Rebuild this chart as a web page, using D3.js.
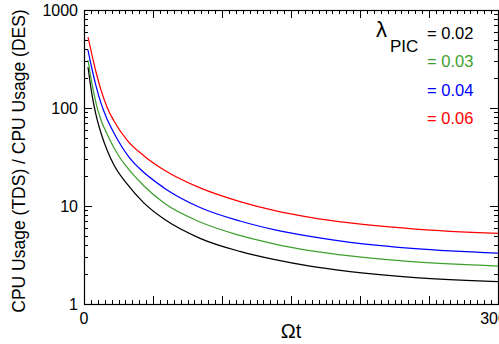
<!DOCTYPE html>
<html>
<head>
<meta charset="utf-8">
<script src="https://cdn.jsdelivr.net/npm/d3@7"></script>
<style>
  html, body { margin: 0; padding: 0; background: #fff; }
  svg { display: block; }
  text { font-family: "Liberation Sans", Arial, sans-serif; }
</style>
</head>
<body>
<svg id="chart" width="499" height="344"></svg>
<script>
// Ratio of CPU usage (TDS / DES) against Ωt for several λ_PIC values
const lambdaLabels = ["= 0.02", "= 0.03", "= 0.04", "= 0.06"];
const seriesColors = ["#000000", "#3f9f2f", "#0000ff", "#ff0000"];

const tLam002 = [29, 58, 87, 123, 167, 217, 312, 435, 580, 841, 1130, 1384, 1638, 1928, 2400, 3000];
const vLam002 = [262, 136, 84.9, 55.6, 37.3, 26.2, 16.8, 10.7, 7.36, 4.68, 3.44, 2.83, 2.43, 2.14, 1.86, 1.69];

const tLam003 = [29, 58, 87, 123, 167, 239, 304, 435, 580, 841, 1130, 1384, 1638, 1928, 2400, 3000];
const vLam003 = [309, 176, 112, 75.4, 54.3, 34.7, 25.6, 16.0, 10.7, 6.87, 5.01, 4.09, 3.51, 3.09, 2.69, 2.44];

const tLam004 = [29, 58, 87, 123, 167, 217, 326, 399, 580, 841, 1130, 1384, 1638, 1928, 2400, 3000];
const vLam004 = [391, 250, 168, 112, 77.2, 55.6, 31.6, 24.4, 15.3, 9.66, 7.03, 5.71, 4.89, 4.26, 3.68, 3.31];

const tLam006 = [29, 58, 87, 123, 167, 217, 312, 435, 580, 841, 1130, 1384, 1638, 1928, 2400, 3000];
const vLam006 = [530, 347, 233, 153, 102, 73.7, 47.1, 32.4, 23.3, 15.3, 11.1, 8.98, 7.67, 6.71, 5.82, 5.25];

const xTickValues = [0, 3000];
const yTickValues = [1, 10, 100, 1000];

const series = [
  { t: tLam002, v: vLam002 },
  { t: tLam003, v: vLam003 },
  { t: tLam004, v: vLam004 },
  { t: tLam006, v: vLam006 }
];

const svg = d3.select("#chart");
const plotLeft = 84, plotRight = 498, plotTop = 10, plotBottom = 304;

const x = d3.scaleLinear().domain([0, 3000]).range([plotLeft, plotRight]);
const y = d3.scaleLog().domain([1, 1000]).range([plotBottom, plotTop]);

// Curves
const line = d3.line()
  .x(d => x(d[0]))
  .y(d => y(d[1]))
  .curve(d3.curveMonotoneX);

series.forEach((s, i) => {
  const pts = s.t.map((t, j) => [t, s.v[j]]);
  svg.append("path")
    .attr("d", line(pts))
    .attr("fill", "none")
    .attr("stroke", seriesColors[i])
    .attr("stroke-width", 1.25);
});

// Frame
svg.append("rect")
  .attr("x", plotLeft + 0.5).attr("y", plotTop + 0.5)
  .attr("width", plotRight - plotLeft).attr("height", plotBottom - plotTop)
  .attr("fill", "none").attr("stroke", "#000").attr("stroke-width", 1.2);

const majorLen = 8, minorLen = 4;

// X ticks: major every 500, minor every 50, on bottom and top
const xMinor = d3.range(0, 3001, 50);
const tickG = svg.append("g").attr("stroke", "#000").attr("stroke-width", 1);
xMinor.forEach(t => {
  const len = t % 500 === 0 ? majorLen : minorLen;
  const px = Math.round(x(t)) + 0.5;
  tickG.append("line").attr("x1", px).attr("x2", px).attr("y1", plotBottom).attr("y2", plotBottom - len);
  tickG.append("line").attr("x1", px).attr("x2", px).attr("y1", plotTop).attr("y2", plotTop + len);
});

// Y ticks: majors at decades, minors at 2..9, on left and right
const yTicks = [];
for (let d = 1; d < 1000; d *= 10) {
  for (let k = 1; k < 10; k++) yTicks.push({ v: d * k, major: k === 1 });
}
yTicks.push({ v: 1000, major: true });
yTicks.forEach(tk => {
  const len = tk.major ? majorLen : minorLen;
  const py = Math.round(y(tk.v)) + 0.5;
  tickG.append("line").attr("x1", plotLeft).attr("x2", plotLeft + len).attr("y1", py).attr("y2", py);
  tickG.append("line").attr("x1", plotRight).attr("x2", plotRight - len).attr("y1", py).attr("y2", py);
});

// Tick labels
svg.append("g").selectAll("text").data(yTickValues).join("text")
  .attr("x", 78).attr("y", d => y(d) + 6)
  .attr("text-anchor", "end").attr("font-size", 16).attr("fill", "#000")
  .text(d => d);

svg.append("g").selectAll("text").data(xTickValues).join("text")
  .attr("x", d => x(d)).attr("y", 324)
  .attr("text-anchor", "middle").attr("font-size", 16).attr("fill", "#000")
  .text(d => d);

// Axis titles
svg.append("text")
  .attr("x", 291).attr("y", 338)
  .attr("text-anchor", "middle")
  .attr("font-family", "'Liberation Serif', 'DejaVu Serif', serif")
  .attr("font-size", 20).attr("fill", "#000")
  .text("Ωt");

svg.append("text")
  .attr("transform", "translate(25,161) rotate(-90)")
  .attr("text-anchor", "middle").attr("font-size", 17.5).attr("fill", "#000")
  .text("CPU Usage (TDS) / CPU Usage (DES)");

// Legend
svg.append("text").attr("x", 376).attr("y", 37)
  .attr("font-size", 22).attr("fill", "#000").text("λ");
svg.append("text").attr("x", 390).attr("y", 52)
  .attr("font-size", 17).attr("fill", "#000").text("PIC");

const legendY = [39, 67, 96, 124];
svg.append("g").selectAll("text").data(lambdaLabels).join("text")
  .attr("x", 427).attr("y", (d, i) => legendY[i])
  .attr("font-size", 16.5)
  .attr("fill", (d, i) => seriesColors[i])
  .text(d => d);
</script>
</body>
</html>
